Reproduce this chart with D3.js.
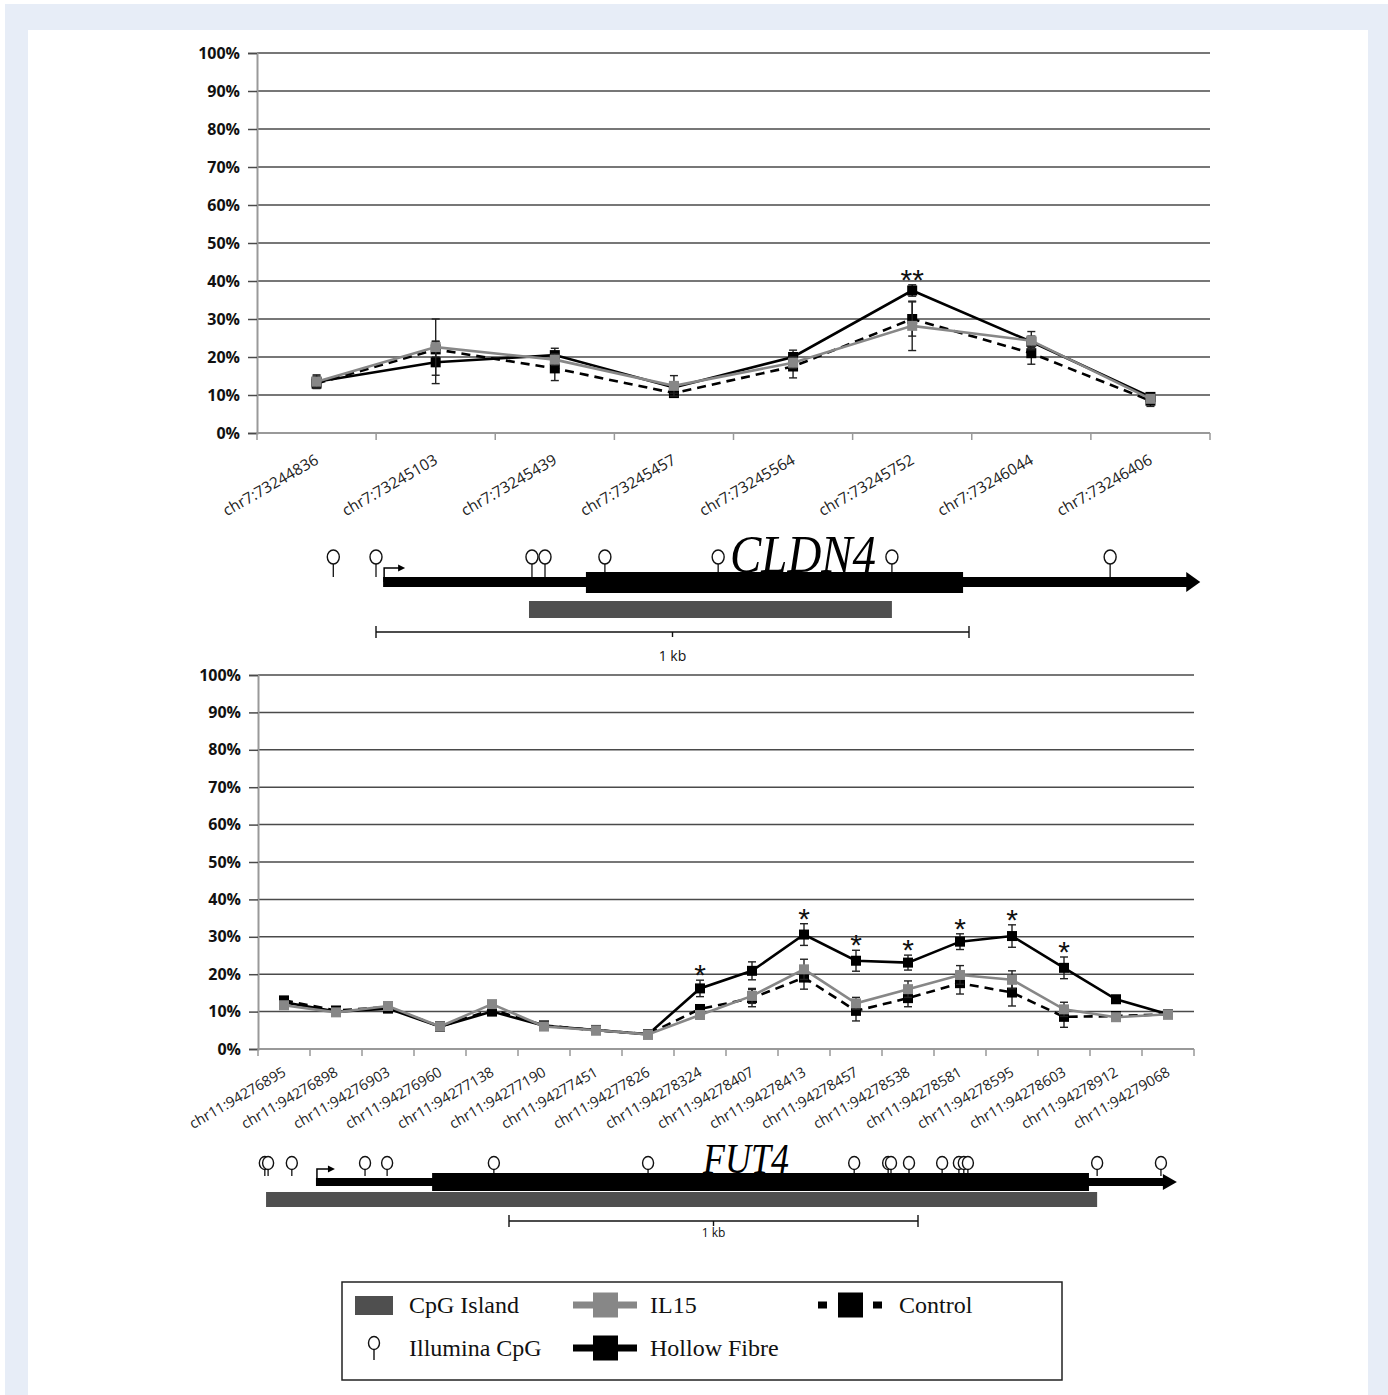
<!DOCTYPE html>
<html>
<head>
  <meta charset="utf-8">
  <title>CLDN4 / FUT4 methylation</title>
  <script src="https://d3js.org/d3.v7.min.js"></script>
  <style>
    body { margin: 0; overflow: hidden; background: #fff; }
    svg { display: block; }
  </style>
</head>
<body>
  <svg width="1388" height="1395"></svg>

  <script>
    // ---- data: CLDN4 panel ----
    const topSites = ["chr7:73244836", "chr7:73245103", "chr7:73245439", "chr7:73245457",
                      "chr7:73245564", "chr7:73245752", "chr7:73246044", "chr7:73246406"];
    const topHollow     = [13.5, 18.6, 20.5, 12.0, 20.0, 37.5, 24.0, 9.5];
    const topHollowErr  = [1.5, 5.6, 1.8, 1.5, 1.8, 1.5, 1.5, 1.0];
    const topIL15       = [13.5, 22.6, 19.3, 12.4, 18.5, 28.2, 24.3, 9.0];
    const topIL15Err    = [1.8, 7.4, 1.5, 2.7, 1.5, 6.5, 2.4, 1.0];
    const topControl    = [13.0, 22.0, 17.0, 10.5, 17.5, 30.0, 21.0, 8.5];
    const topControlErr = [1.2, 2.0, 3.2, 1.0, 3.0, 4.5, 2.9, 1.5];
    const topStars      = ["", "", "", "", "", "**", "", ""];

    // ---- data: FUT4 panel ----
    const botSites = ["chr11:94276895", "chr11:94276898", "chr11:94276903", "chr11:94276960",
                      "chr11:94277138", "chr11:94277190", "chr11:94277451", "chr11:94277826",
                      "chr11:94278324", "chr11:94278407", "chr11:94278413", "chr11:94278457",
                      "chr11:94278538", "chr11:94278581", "chr11:94278595", "chr11:94278603",
                      "chr11:94278912", "chr11:94279068"];
    const botHollow     = [12.5, 10.0, 10.8, 6.0, 10.0, 6.2, 5.1, 3.9, 16.2, 20.9, 30.6, 23.6, 23.1, 28.7, 30.2, 21.7, 13.3, 9.3];
    const botHollowErr  = [0.8, 0.8, 0.8, 0.6, 0.8, 0.6, 0.5, 0.4, 2.2, 2.4, 2.9, 2.8, 2.0, 2.1, 3.0, 2.9, 0.8, 0.6];
    const botIL15       = [11.7, 9.8, 11.5, 6.0, 12.0, 6.0, 5.0, 3.9, 9.1, 14.2, 21.3, 12.2, 16.0, 19.8, 18.5, 10.6, 8.5, 9.3];
    const botIL15Err    = [0.8, 0.8, 0.8, 0.5, 0.8, 0.5, 0.5, 0.4, 1.0, 2.0, 2.7, 1.6, 2.2, 2.5, 2.4, 1.9, 0.8, 0.6];
    const botControl    = [13.0, 10.3, 11.2, 6.0, 10.5, 6.3, 5.0, 4.0, 10.7, 13.6, 19.1, 10.2, 13.6, 17.6, 15.1, 8.6, 8.8, 9.3];
    const botControlErr = [0.8, 0.8, 0.8, 0.5, 0.8, 0.5, 0.5, 0.4, 1.0, 2.3, 3.1, 2.7, 2.3, 2.9, 3.6, 2.8, 0.8, 0.6];
    const botStars      = ["", "", "", "", "", "", "", "", "*", "", "*", "*", "*", "*", "*", "*", "", ""];

    const yTicks = d3.range(0, 101, 10);

    // ---- gene maps (positions in bp relative to scale-bar start) ----
    const cldn4Cpg   = [-72, 0, 263, 285, 386, 577, 870, 1238];
    const cldn4Tx    = [12, 1390];      // transcript start, arrow tip
    const cldn4Exon  = [354, 990];
    const cldn4Isl   = [258, 870];
    const fut4Cpg    = [-597, -589, -531, -352, -298, -37, 340, 844, 927, 934, 978, 1059, 1100, 1112, 1122, 1438, 1594];
    const fut4Tx     = [-472, 1633];
    const fut4Exon   = [-188, 1418];
    const fut4Isl    = [-594, 1438];

    const legendItems = [
      { key: "cpg",     label: "CpG Island" },
      { key: "il15",    label: "IL15" },
      { key: "control", label: "Control" },
      { key: "illum",   label: "Illumina CpG" },
      { key: "hollow",  label: "Hollow Fibre" }
    ];

    const GRAY = "#878787";
    const ISLAND = "#4f4f4f";

    const svg = d3.select("svg");

    // page background
    svg.append("rect").attr("x", 5).attr("y", 4).attr("width", 1383).attr("height", 1391).attr("fill", "#e7edf7");
    svg.append("rect").attr("x", 28).attr("y", 30).attr("width", 1340).attr("height", 1365).attr("fill", "#fff");

    function drawChart(o) {
      const g = svg.append("g");
      const y = d3.scaleLinear().domain([0, 100]).range([o.y0, o.y1]);
      const x = d3.scalePoint().domain(o.sites).range([o.x0, o.x1]).padding(0.5);
      const step = x.step();

      // gridlines
      g.append("g").selectAll("line").data(yTicks.slice(1)).join("line")
        .attr("x1", o.x0).attr("x2", o.x1)
        .attr("y1", d => y(d)).attr("y2", d => y(d))
        .attr("stroke", "#4a4a4a").attr("stroke-width", 1.5);

      // y axis
      const ya = g.append("g").attr("transform", `translate(${o.x0},0)`)
        .call(d3.axisLeft(y).tickValues(yTicks).tickFormat(d => d + "%").tickSize(9).tickPadding(8));
      ya.select(".domain").attr("stroke", "#999").attr("stroke-width", 2);
      ya.selectAll(".tick line").attr("stroke", "#4a4a4a").attr("stroke-width", 1.5);
      ya.selectAll(".tick text").attr("font-family", "Open Sans").attr("font-weight", "bold")
        .attr("font-size", 16).attr("fill", "#111");

      // x axis: baseline, boundary ticks, rotated labels
      g.append("line").attr("x1", o.x0).attr("x2", o.x1).attr("y1", o.y0).attr("y2", o.y0)
        .attr("stroke", "#999").attr("stroke-width", 2);
      g.append("g").selectAll("line").data(d3.range(o.sites.length + 1)).join("line")
        .attr("x1", i => o.x0 + i * step).attr("x2", i => o.x0 + i * step)
        .attr("y1", o.y0).attr("y2", o.y0 + 7)
        .attr("stroke", "#999").attr("stroke-width", 1.5);
      g.append("g").selectAll("text").data(o.sites).join("text")
        .attr("transform", d => `translate(${x(d) + 3},${o.y0 + o.labelDy}) rotate(-30)`)
        .attr("text-anchor", "end")
        .attr("font-family", "Open Sans").attr("font-size", o.labelSize).attr("fill", "#222")
        .text(d => d);

      const series = [
        { vals: o.control, err: o.controlErr, color: "#000", dash: "9,6", sq: "#000" },
        { vals: o.hollow,  err: o.hollowErr,  color: "#000", dash: null,  sq: "#000" },
        { vals: o.il15,    err: o.il15Err,    color: GRAY,   dash: null,  sq: GRAY }
      ];
      const line = d3.line().x((d, i) => x(o.sites[i])).y(d => y(d));

      series.forEach(s => {
        const sg = g.append("g");
        // error bars
        const eb = sg.selectAll("g.err").data(s.vals).join("g").attr("class", "err");
        eb.append("line")
          .attr("x1", (d, i) => x(o.sites[i])).attr("x2", (d, i) => x(o.sites[i]))
          .attr("y1", (d, i) => y(d + s.err[i])).attr("y2", (d, i) => y(d - s.err[i]))
          .attr("stroke", "#222").attr("stroke-width", 1.4);
        [1, -1].forEach(sgn => {
          eb.append("line")
            .attr("x1", (d, i) => x(o.sites[i]) - 4).attr("x2", (d, i) => x(o.sites[i]) + 4)
            .attr("y1", (d, i) => y(d + sgn * s.err[i])).attr("y2", (d, i) => y(d + sgn * s.err[i]))
            .attr("stroke", "#222").attr("stroke-width", 1.4);
        });
        sg.append("path").datum(s.vals)
          .attr("d", line).attr("fill", "none")
          .attr("stroke", s.color).attr("stroke-width", 2.6)
          .attr("stroke-dasharray", s.dash);
        sg.selectAll("rect").data(s.vals).join("rect")
          .attr("x", (d, i) => x(o.sites[i]) - 5).attr("y", d => y(d) - 5)
          .attr("width", 10).attr("height", 10).attr("fill", s.sq);
      });

      // significance stars
      g.append("g").selectAll("text").data(o.stars).join("text")
        .attr("x", (d, i) => x(o.sites[i]))
        .attr("y", (d, i) => y(o.hollow[i] + o.hollowErr[i]) + 5)
        .attr("text-anchor", "middle")
        .attr("font-family", "Liberation Sans").attr("font-size", 30).attr("fill", "#111")
        .text(d => d);
    }

    function drawGene(o) {
      const g = svg.append("g");
      const s = d3.scaleLinear().domain([0, 1000]).range(o.range);
      const ly = o.lineY;

      // CpG island
      g.append("rect").attr("x", s(o.isl[0])).attr("y", o.islY[0])
        .attr("width", s(o.isl[1]) - s(o.isl[0])).attr("height", o.islY[1] - o.islY[0])
        .attr("fill", ISLAND);

      // lollipops
      const lp = g.append("g").selectAll("g").data(o.cpg).join("g");
      lp.append("line").attr("x1", d => s(d)).attr("x2", d => s(d))
        .attr("y1", o.cy + o.ry).attr("y2", o.stemEnd)
        .attr("stroke", "#111").attr("stroke-width", 1.3);
      lp.append("ellipse").attr("cx", d => s(d)).attr("cy", o.cy)
        .attr("rx", o.rx).attr("ry", o.ry)
        .attr("fill", "#fff").attr("stroke", "#111").attr("stroke-width", 1.4);

      // transcript line and arrowhead
      const tip = s(o.tx[1]);
      g.append("rect").attr("x", s(o.tx[0])).attr("y", ly - o.lineH / 2)
        .attr("width", tip - 12 - s(o.tx[0])).attr("height", o.lineH).attr("fill", "#000");
      g.append("path")
        .attr("d", `M${tip - 14},${ly - o.headH} L${tip},${ly} L${tip - 14},${ly + o.headH} Z`)
        .attr("fill", "#000");
      // exon block
      g.append("rect").attr("x", s(o.exon[0])).attr("y", o.exonY[0])
        .attr("width", s(o.exon[1]) - s(o.exon[0])).attr("height", o.exonY[1] - o.exonY[0])
        .attr("fill", "#000");

      // promoter bent arrow
      const px = s(o.tx[0]) + 1;
      g.append("path").attr("d", `M${px},${ly} L${px},${ly - o.promH} L${px + o.promW},${ly - o.promH}`)
        .attr("fill", "none").attr("stroke", "#000").attr("stroke-width", 1.5);
      g.append("path")
        .attr("d", `M${px + o.promW + 6},${ly - o.promH} L${px + o.promW - 1},${ly - o.promH - 3.5} L${px + o.promW - 1},${ly - o.promH + 3.5} Z`)
        .attr("fill", "#000");

      // gene name
      g.append("text").attr("x", o.nameX).attr("y", o.exonY[0])
        .attr("font-family", "Liberation Serif").attr("font-style", "italic")
        .attr("font-size", o.nameSize).attr("textLength", o.nameLen).attr("lengthAdjust", "spacingAndGlyphs")
        .attr("fill", "#000").text(o.name);

      // scale bar
      const sb = g.append("g").attr("stroke", "#111").attr("stroke-width", 1.4);
      sb.append("line").attr("x1", s(0)).attr("x2", s(1000)).attr("y1", o.barY).attr("y2", o.barY);
      [0, 1000].forEach(v => sb.append("line").attr("x1", s(v)).attr("x2", s(v))
        .attr("y1", o.barY - 6).attr("y2", o.barY + 6));
      sb.append("line").attr("x1", s(500)).attr("x2", s(500)).attr("y1", o.barY).attr("y2", o.barY + 5);
      g.append("text").attr("x", s(500)).attr("y", o.barY + o.kbDy)
        .attr("text-anchor", "middle").attr("font-family", "Open Sans").attr("font-size", o.kbSize)
        .attr("fill", "#111").text("1 kb");
    }

    drawChart({
      sites: topSites, hollow: topHollow, hollowErr: topHollowErr,
      il15: topIL15, il15Err: topIL15Err, control: topControl, controlErr: topControlErr,
      stars: topStars, x0: 257, x1: 1210, y0: 433, y1: 53, labelSize: 15.5, labelDy: 30
    });

    drawGene({
      name: "CLDN4", nameX: 730, nameSize: 52, nameLen: 146,
      range: [376, 969], cpg: cldn4Cpg, tx: cldn4Tx, exon: cldn4Exon, isl: cldn4Isl,
      lineY: 582, lineH: 10, headH: 10, exonY: [572, 593], islY: [601, 618],
      cy: 557, rx: 6, ry: 7, stemEnd: 577, promH: 14, promW: 15,
      barY: 632, kbDy: 29, kbSize: 14
    });

    drawChart({
      sites: botSites, hollow: botHollow, hollowErr: botHollowErr,
      il15: botIL15, il15Err: botIL15Err, control: botControl, controlErr: botControlErr,
      stars: botStars, x0: 258, x1: 1194, y0: 1049, y1: 675, labelSize: 14.5, labelDy: 26
    });

    drawGene({
      name: "FUT4", nameX: 703, nameSize: 42, nameLen: 86,
      range: [509, 918], cpg: fut4Cpg, tx: fut4Tx, exon: fut4Exon, isl: fut4Isl,
      lineY: 1182, lineH: 8, headH: 8, exonY: [1173, 1191], islY: [1192, 1207],
      cy: 1163, rx: 5.5, ry: 6.5, stemEnd: 1176, promH: 13, promW: 12,
      barY: 1221, kbDy: 16, kbSize: 12
    });

    // ---- legend ----
    const lg = svg.append("g");
    lg.append("rect").attr("x", 342).attr("y", 1282).attr("width", 720).attr("height", 98)
      .attr("fill", "#fff").attr("stroke", "#222").attr("stroke-width", 1.5);
    const pos = {
      cpg:     [355, 1305], il15: [573, 1305], control: [818, 1305],
      illum:   [355, 1348], hollow: [573, 1348]
    };
    legendItems.forEach(it => {
      const [lx, ly] = pos[it.key];
      const ig = lg.append("g");
      if (it.key === "cpg") {
        ig.append("rect").attr("x", lx).attr("y", ly - 9).attr("width", 38).attr("height", 19).attr("fill", ISLAND);
      } else if (it.key === "illum") {
        ig.append("line").attr("x1", lx + 19).attr("x2", lx + 19).attr("y1", ly + 1).attr("y2", ly + 12)
          .attr("stroke", "#111").attr("stroke-width", 1.4);
        ig.append("ellipse").attr("cx", lx + 19).attr("cy", ly - 5).attr("rx", 5.5).attr("ry", 6.5)
          .attr("fill", "#fff").attr("stroke", "#111").attr("stroke-width", 1.4);
      } else {
        const c = it.key === "il15" ? GRAY : "#000";
        ig.append("line").attr("x1", lx).attr("x2", lx + 64).attr("y1", ly).attr("y2", ly)
          .attr("stroke", c).attr("stroke-width", 7)
          .attr("stroke-dasharray", it.key === "control" ? "9,13,20,13,9" : null);
        ig.append("rect").attr("x", lx + 20).attr("y", ly - 12.5).attr("width", 25).attr("height", 25).attr("fill", c);
      }
      const tx = (it.key === "cpg" || it.key === "illum") ? 409 : (it.key === "control" ? 899 : 650);
      ig.append("text").attr("x", tx).attr("y", ly + 8)
        .attr("font-family", "Liberation Serif").attr("font-size", 24).attr("fill", "#111")
        .text(it.label);
    });
  </script>
</body>
</html>
